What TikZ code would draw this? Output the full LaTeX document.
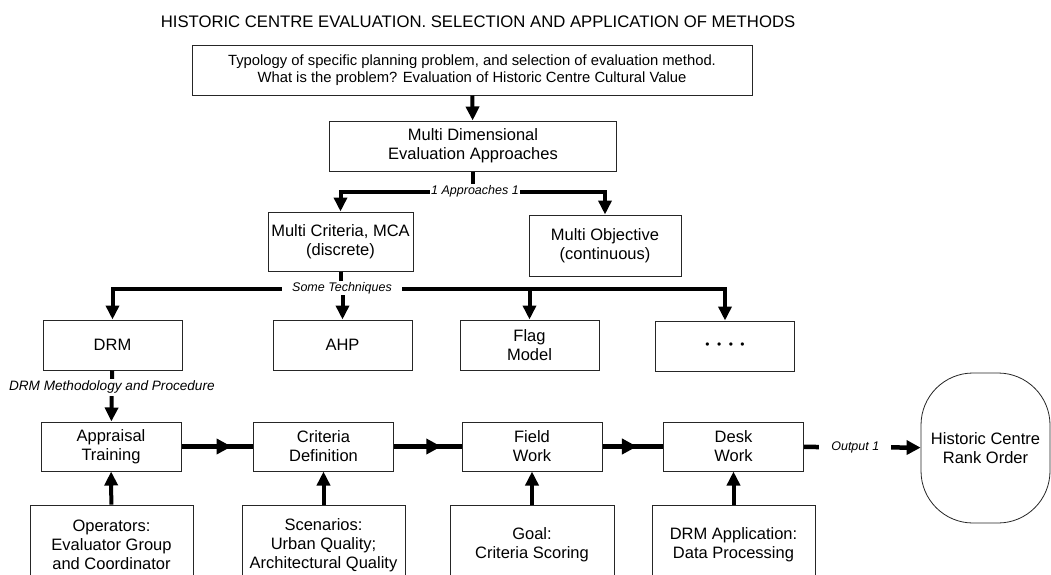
\documentclass[tikz,border=0pt]{standalone}
\usepackage{fontspec}
\setmainfont{Liberation Sans}
\usetikzlibrary{arrows.meta,positioning,decorations.markings}

\begin{document}
\begin{tikzpicture}[x=1pt,y=-1pt,font=\fontsize{16.5}{19}\selectfont]
  \tikzstyle{box}=[draw=black!85,line width=1pt,align=center,inner sep=0pt,minimum width=139pt,minimum height=50pt]
  \tikzstyle{arrow}=[line width=4pt,-{Triangle[length=14pt,width=13pt]}]
  \tikzstyle{tag}=[fill=white,font=\fontsize{12.5}{14}\selectfont\itshape,inner sep=1.5pt]
  \tikzset{flow/.style={line width=5pt,postaction={decorate},
      decoration={markings,mark=at position #1 with {\arrow{Triangle[length=15pt,width=15pt]}}}},
    flow/.default=0.68}

  \useasboundingbox (0,0) rectangle (1051,574);
  \clip (0,0) rectangle (1051,574);

  % title
  \node (title) at (478,22) {\fontsize{16.7}{19}\selectfont HISTORIC CENTRE EVALUATION. SELECTION AND APPLICATION OF METHODS};

  % problem and approaches
  \node [box,minimum width=560pt,font=\fontsize{14.8}{16.5}\selectfont] (prob) at (472,70)
    {Typology of specific planning problem, and selection of evaluation method.\\What is the problem? Evaluation of Historic Centre Cultural Value};
  \node [box,minimum width=287pt] (mda) at (473,146) {Multi Dimensional\\Evaluation Approaches};
  \node [box,minimum width=145pt,minimum height=59pt] (mca) at (340.5,241.5) {Multi Criteria, MCA\\(discrete)};
  \node [box,minimum width=152pt,minimum height=61pt] (mo) at (605,245.5) {Multi Objective\\(continuous)};

  \draw [arrow] (prob) -- (mda);
  \draw [arrow] (mda.south) -- ++(0,20) -| (mca.north);
  \draw [arrow] (mda.south) -- ++(0,20) -| (mo.north);
  \node [tag,inner sep=1pt] (appr-tag) at (475,191) {1 Approaches 1};

  % techniques
  \node [box] (drm) at (112.5,345) {DRM};
  \node [box] (ahp) at (342.5,345) {AHP};
  \node [box] (flag) at (529.5,345) {Flag\\Model};
  \node [box] (more) at (725,346) {\fontsize{12}{13}\selectfont •\hspace{7.5pt}•\hspace{7.5pt}•\hspace{7.5pt}•};

  \draw [arrow] (mca.south) -- ++(0,17) -| (drm.north);
  \draw [arrow] (mca.south) -- ++(0,17) -| (ahp.north);
  \draw [arrow] (mca.south) -- ++(0,17) -| (flag.north);
  \draw [arrow] (mca.south) -- ++(0,17) -| (more.north);
  \node [tag,inner xsep=10pt] (tech-tag) at (342,288) {Some Techniques};

  % DRM procedure
  \node [box,minimum width=140pt,minimum height=49pt] (appr) at (111,446.5) {Appraisal\\Training};
  \node [box,minimum width=140pt,minimum height=49pt] (crit) at (323.5,446.5) {Criteria\\Definition};
  \node [box,minimum width=140pt,minimum height=49pt] (field) at (532,446.5) {Field\\Work};
  \node [box,minimum width=140pt,minimum height=49pt] (desk) at (733.5,446.5) {Desk\\Work};
  \node [draw=black!85,line width=0.8pt,rounded corners=52pt,minimum width=129pt,minimum height=150pt,align=center] (rank) at (985.5,448)
    {Historic Centre\\Rank Order};

  \draw [arrow] (drm) -- (appr) node [tag,pos=0.33,inner ysep=2pt,font=\fontsize{13.6}{15}\selectfont\itshape] {DRM Methodology and Procedure};
  \draw [flow=0.7] (appr) -- (crit);
  \draw [flow=0.7] (crit) -- (field);
  \draw [flow=0.57] (field) -- (desk);
  \draw [line width=4.5pt,-{Triangle[length=14pt,width=14pt]}] (desk) -- (rank)
    node [tag,pos=0.44,inner xsep=12pt] {Output 1};

  % inputs
  \node [box,minimum width=163pt,minimum height=80pt] (oper) at (111.5,545) {Operators:\\Evaluator Group\\and Coordinator};
  \node [box,minimum width=163pt,minimum height=80pt] (scen) at (323.5,545) {Scenarios:\\Urban Quality;\\Architectural Quality};
  \node [box,minimum width=164pt,minimum height=80pt] (goal) at (532,545) {Goal:\\Criteria Scoring};
  \node [box,minimum width=163pt,minimum height=80pt] (drmapp) at (733.5,545) {DRM Application:\\Data Processing};

  \draw [arrow] (oper) -- (appr);
  \draw [arrow] (scen) -- (crit);
  \draw [arrow] (goal) -- (field);
  \draw [arrow] (drmapp) -- (desk);

\end{tikzpicture}
\end{document}
